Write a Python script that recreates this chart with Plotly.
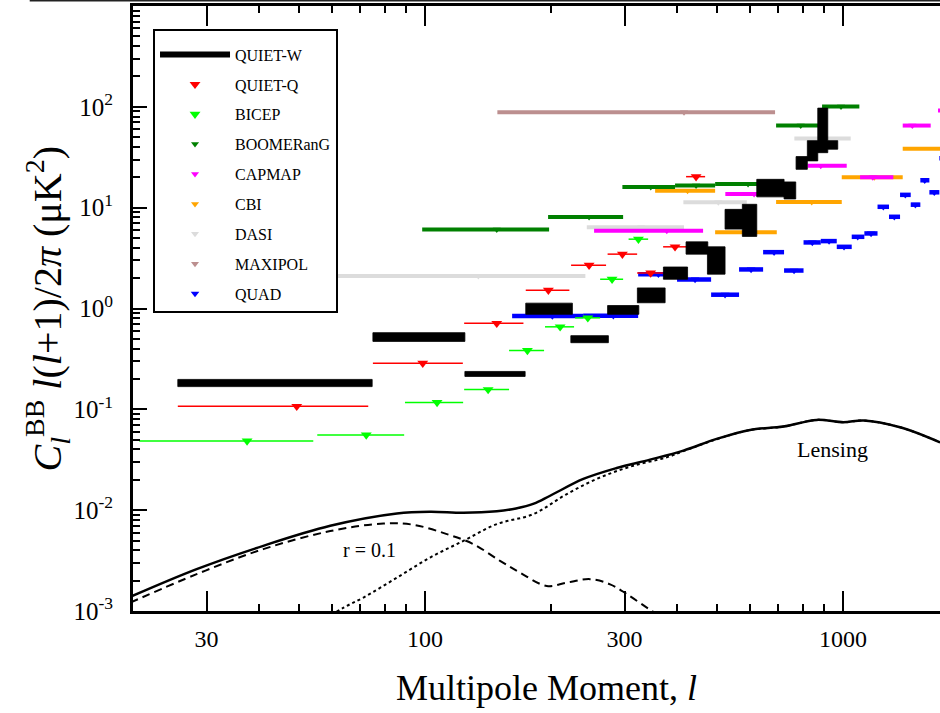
import math
import plotly.graph_objects as go

# ---------------- data ----------------
# QUIET-W: boxes (l range, lower/upper band)
qw_lmin = [25.6, 75.0, 124.5, 174.1, 223.2, 273.3, 322.0, 371.7, 421.1, 473.7, 522.0, 574.2, 621.7, 722.6, 772.0, 821.4, 870.0, 919.3]
qw_lmax = [74.7, 124.5, 173.5, 225.1, 274.5, 324.6, 375.2, 424.6, 474.7, 522.0, 574.2, 621.7, 722.6, 770.6, 821.4, 870.0, 919.3, 971.2]
qw_hi = [0.198, 0.576, 0.2375, 1.13, 0.538, 1.07, 1.60, 2.58, 4.58, 4.09, 9.62, 10.8, 19.1, 18.0, 32.1, 46.2, 97.1, 46.2]
qw_lo = [0.168, 0.472, 0.212, 0.876, 0.458, 0.876, 1.14, 1.95, 3.46, 2.19, 6.13, 5.19, 12.8, 12.2, 24.0, 29.1, 35.1, 38.0]

# QUIET-Q
qq_lmin = [25.6, 75.0, 124.0, 174.1, 223.5, 273.3, 321.6, 371.1, 421.1]
qq_lmax = [73.1, 123.1, 171.9, 221.4, 271.0, 321.6, 371.1, 423.4, 467.7]
qq_l = [49.3, 98.7, 148.4, 197.2, 246.8, 296.5, 346.5, 396.3, 445.0]
qq_val = [0.107, 0.287, 0.713, 1.52, 2.69, 3.46, 2.25, 4.09, 20.3]

# BICEP
bi_lmin = [20.7, 55.2, 89.5, 124.0, 158.8, 193.6, 228.5, 262.3, 306.8]
bi_lmax = [54.0, 89.1, 123.3, 158.8, 192.6, 227.2, 262.3, 297.7, 341.7]
bi_l = [37.5, 72.3, 106.8, 141.5, 175.7, 210.4, 245.1, 280.1, 323.9]
bi_val = [0.0486, 0.0558, 0.117, 0.157, 0.384, 0.658, 0.808, 1.95, 4.87]

# BOOMERanG
bo_lmin = [98.4, 196.9, 296.5, 396.3, 494.2, 691.5, 890.9]
bo_lmax = [198.0, 297.7, 396.3, 494.2, 622.9, 871.4, 1094.0]
bo_l = [148.4, 246.8, 346.7, 445.0, 592.6, 792.1, 989.0]
bo_val = [6.09, 8.07, 16.0, 16.6, 17.2, 65.2, 100.7]

# CAPMAP
ca_lmin = [253.7, 522.8, 823.1, 1098.3, 1389.3, 1687.7]
ca_lmax = [462.5, 719.7, 1020.5, 1319.2, 1621.0, 1905.0]
ca_l = [378.7, 612.6, 884.5, 1178.0, 1464.9, 1803.0]
ca_val = [5.89, 13.7, 26.1, 20.0, 65.2, 91.9]

# CBI
cb_lmin = [355.1, 494.2, 691.5, 992.9, 1389.3]
cb_lmax = [494.2, 694.2, 992.9, 1389.3, 2187.0]
cb_l = [424.6, 592.6, 841.5, 1188.3, 1744.0]
cb_val = [14.7, 5.72, 11.4, 20.0, 38.5]

# DASI
da_lmin = [45.0, 243.7, 414.9, 764.7]
da_lmax = [241.8, 416.4, 588.4, 1043.2]
da_l = [134.1, 328.7, 503.1, 895.8]
da_val = [2.10, 6.41, 11.3, 48.4]

# MAXIPOL
mx_lmin = [148.9]
mx_lmax = [687.6]
mx_l = [416.4]
mx_val = [88.6]

# QUAD
qd_lmin = [161.5, 238.8, 323.4, 400.7, 483.4, 563.9, 643.8, 722.6, 804.4, 884.5, 966.0, 1049.0, 1124.6, 1209.3, 1288.0, 1369.0, 1452.0, 1531.0, 1609.0, 1700.0]
qd_lmax = [238.8, 323.4, 400.7, 483.4, 563.9, 643.8, 722.6, 804.4, 884.5, 966.0, 1049.0, 1124.6, 1209.3, 1288.0, 1369.0, 1452.0, 1531.0, 1609.0, 1700.0, 1803.0]
qd_l = [201.6, 282.1, 361.6, 442.5, 522.0, 602.5, 683.9, 763.5, 844.3, 925.9, 1005.5, 1084.3, 1167.0, 1248.6, 1326.5, 1409.3, 1489.4, 1568.5, 1653.5, 1744.0]
qd_val = [0.842, 0.846, 2.18, 1.94, 1.37, 2.44, 3.62, 2.38, 4.52, 4.66, 4.09, 5.14, 5.55, 10.2, 8.12, 13.4, 10.7, 18.7, 14.2, 30.9]

# Theory curves
tensor_l = [19.7, 28.4, 41.0, 59.3, 79.5, 93.8, 112.7, 130.5, 151.1, 168.7, 195.5, 218.3, 248.1, 277.1, 303.9, 339.2, 364.8, 407.4]
tensor_val = [0.00121, 0.00232, 0.00411, 0.0062, 0.00738, 0.00716, 0.00579, 0.0046, 0.00314, 0.0024, 0.00177, 0.00191, 0.00207, 0.00184, 0.00147, 0.00108, 0.00089, 0.00071]

total_l = [19.7, 28.4, 41.0, 59.3, 85.6, 102.8, 123.5, 148.4, 165.0, 182.0, 199.1, 239.1, 287.4, 345.3, 414.9, 498.5, 599.0, 719.7, 865.0, 1002.0, 1120.0, 1369.0, 1706.0]
total_val = [0.00138, 0.0026, 0.00443, 0.0070, 0.00927, 0.00964, 0.00942, 0.00975, 0.0104, 0.0116, 0.0139, 0.0204, 0.0262, 0.0317, 0.039, 0.0509, 0.0625, 0.0675, 0.0786, 0.0744, 0.0776, 0.0664, 0.0471]

lensing_l = [58.0, 63.8, 71.2, 85.6, 102.8, 123.5, 148.4, 181.6, 218.3, 262.3, 315.0, 378.7, 414.9, 498.5, 599.0, 719.7, 865.0, 1002.0, 1120.0, 1369.0, 1706.0]
lensing_val = [0.00085, 0.00108, 0.00136, 0.00214, 0.00339, 0.00496, 0.00727, 0.00915, 0.01445, 0.0211, 0.0276, 0.0334, 0.0385, 0.0505, 0.0623, 0.0674, 0.0786, 0.0744, 0.0776, 0.0664, 0.0471]

x_tickvals = [30, 100, 300, 1000]
x_ticktext = ["30", "100", "300", "1000"]
y_tickvals = [1e-3, 1e-2, 1e-1, 1e0, 1e1, 1e2]
y_ticktext = ["10<sup>-3</sup>", "10<sup>-2</sup>", "10<sup>-1</sup>", "10<sup>0</sup>", "10<sup>1</sup>", "10<sup>2</sup>"]

SERIF = "Liberation Serif, Times New Roman, serif"


def segments(lmin, lmax, val):
    xs, ys = [], []
    for a, b, v in zip(lmin, lmax, val):
        xs += [a, b, None]
        ys += [v, v, None]
    return xs, ys


fig = go.Figure()

# theory curves
fig.add_trace(go.Scatter(x=lensing_l, y=lensing_val, mode="lines", line=dict(color="black", width=2, dash="dot", shape="spline"), showlegend=False, hoverinfo="skip"))
fig.add_trace(go.Scatter(x=tensor_l, y=tensor_val, mode="lines", line=dict(color="black", width=2, dash="8px,5px", shape="spline"), showlegend=False, hoverinfo="skip"))
fig.add_trace(go.Scatter(x=total_l, y=total_val, mode="lines", line=dict(color="black", width=2.5, shape="spline"), showlegend=False, hoverinfo="skip"))

experiments = [
    # name, lmin, lmax, l, val, color, linewidth, markersize, rank
    ("DASI", da_lmin, da_lmax, da_l, da_val, "#dcdcdc", 4, 7, 7),
    ("MAXIPOL", mx_lmin, mx_lmax, mx_l, mx_val, "#bc8f8f", 4, 7, 8),
    ("CBI", cb_lmin, cb_lmax, cb_l, cb_val, "#ffa500", 4, 7, 6),
    ("CAPMAP", ca_lmin, ca_lmax, ca_l, ca_val, "#ff00ff", 4, 7, 5),
    ("BOOMERanG", bo_lmin, bo_lmax, bo_l, bo_val, "#008000", 4, 7, 4),
    ("QUAD", qd_lmin, qd_lmax, qd_l, qd_val, "#0000ff", 4.5, 7.5, 9),
    ("BICEP", bi_lmin, bi_lmax, bi_l, bi_val, "#00ff00", 1.5, 9.5, 3),
    ("QUIET-Q", qq_lmin, qq_lmax, qq_l, qq_val, "#ff0000", 1.5, 9.5, 2),
]

for name, lmin, lmax, lc, val, col, lw, ms, rank in experiments:
    xs, ys = segments(lmin, lmax, val)
    fig.add_trace(go.Scatter(x=xs, y=ys, mode="lines", line=dict(color=col, width=lw),
                             legendgroup=name, showlegend=False, hoverinfo="skip"))
    fig.add_trace(go.Scatter(x=lc, y=val, mode="markers", name=name,
                             marker=dict(symbol="triangle-down", size=ms, color=col, line=dict(width=0)),
                             legendgroup=name, legendrank=rank))

# QUIET-W boxes
bx, by = [], []
for a, b, lo, hi in zip(qw_lmin, qw_lmax, qw_lo, qw_hi):
    bx += [a, b, b, a, a, None]
    by += [lo, lo, hi, hi, lo, None]
fig.add_trace(go.Scatter(x=bx, y=by, mode="lines", fill="toself", fillcolor="black",
                         line=dict(color="black", width=0.8), legendgroup="QUIET-W", showlegend=False,
                         hoverinfo="skip"))
fig.add_trace(go.Scatter(x=[None], y=[None], mode="lines", name="QUIET-W",
                         line=dict(color="black", width=6), legendgroup="QUIET-W", legendrank=1))

# minor ticks
x_minor = [d * m for d in (10, 100, 1000) for m in range(2, 10)]
y_minor = [10 ** e * m for e in range(-3, 3) for m in range(2, 10)]

fig.update_layout(
    width=940, height=713,
    margin=dict(l=133, r=0, t=6, b=102),
    paper_bgcolor="white", plot_bgcolor="white",
    font=dict(family=SERIF, color="black"),
    showlegend=True,
    legend=dict(x=0.0248, y=0.962, xanchor="left", yanchor="top",
                bgcolor="white", bordercolor="black", borderwidth=2,
                font=dict(family=SERIF, size=16, color="black"),
                title=dict(text=" ", font=dict(family=SERIF, size=5)),
                traceorder="grouped", tracegroupgap=6.1, itemwidth=70),
    xaxis=dict(type="log", range=[math.log10(20), 3.232], showline=True, linewidth=3, linecolor="black",
               mirror="ticks", ticks="inside", ticklen=20, tickwidth=2, tickcolor="black",
               tickvals=x_tickvals, ticktext=x_ticktext, tickfont=dict(family=SERIF, size=24),
               showgrid=False, zeroline=False, ticklabelstandoff=4,
               minor=dict(tickvals=x_minor, ticks="inside", ticklen=7, tickwidth=2, tickcolor="black", showgrid=False)),
    yaxis=dict(type="log", range=[-3, 3], showline=True, linewidth=3, linecolor="black",
               mirror=False, ticks="inside", ticklen=14, tickwidth=2, tickcolor="black",
               tickvals=y_tickvals, ticktext=y_ticktext, tickfont=dict(family=SERIF, size=25),
               showgrid=False, zeroline=False, ticklabelstandoff=12,
               minor=dict(tickvals=y_minor, ticks="inside", ticklen=7, tickwidth=2, tickcolor="black", showgrid=False)),
)

# frame line at the very top of the image
fig.add_shape(type="line", xref="paper", yref="paper", x0=-0.128, x1=1.0, y0=1.0091, y1=1.0091,
              line=dict(color="#222222", width=2))

# texts
fig.add_annotation(text="r = 0.1", x=math.log10(73.8), y=math.log10(0.00404), xref="x", yref="y",
                   showarrow=False, font=dict(family=SERIF, size=20, color="black"))
fig.add_annotation(text="Lensing", x=math.log10(946), y=math.log10(0.0398), xref="x", yref="y",
                   showarrow=False, font=dict(family=SERIF, size=22, color="black"))
fig.add_annotation(text="Multipole Moment, <i>l</i>", x=0.513, y=-0.127, xref="paper", yref="paper",
                   xanchor="center", yanchor="middle", showarrow=False,
                   font=dict(family=SERIF, size=36, color="black"))
fig.add_annotation(text="<i>C</i><sub><i>l</i></sub><sup>BB</sup> <i>l</i>(<i>l</i>+1)/2<i>π</i> (μK<sup>2</sup>)",
                   x=-0.1066, y=0.5, xref="paper", yref="paper", xanchor="center", yanchor="middle",
                   textangle=-90, showarrow=False, font=dict(family=SERIF, size=40, color="black"))

fig.write_html("out.html")
